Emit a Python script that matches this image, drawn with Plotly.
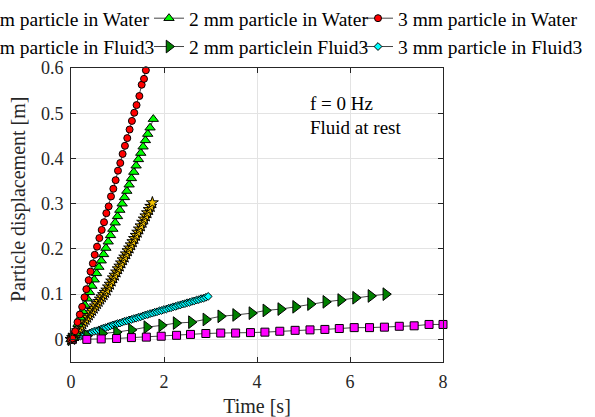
import plotly.graph_objects as go

# ---------------- data ----------------
t_1mm_water = [0.000, 0.035, 0.070, 0.105, 0.140, 0.175, 0.210, 0.245, 0.280, 0.315,
               0.350, 0.385, 0.420, 0.455, 0.490, 0.525, 0.560, 0.595, 0.630, 0.665,
               0.700, 0.735, 0.770, 0.805, 0.840, 0.875, 0.910, 0.945, 0.980, 1.015,
               1.050, 1.085, 1.120, 1.155, 1.190, 1.225, 1.260, 1.295, 1.330, 1.365,
               1.400, 1.435, 1.470, 1.505, 1.540, 1.575, 1.610, 1.645, 1.680, 1.715, 1.750]
d_1mm_water = [0.000, 0.004, 0.009, 0.014, 0.019, 0.024, 0.029, 0.034, 0.039, 0.044,
               0.049, 0.054, 0.059, 0.064, 0.069, 0.074, 0.079, 0.084, 0.089, 0.094,
               0.099, 0.104, 0.109, 0.116, 0.122, 0.129, 0.136, 0.142, 0.149, 0.156,
               0.162, 0.169, 0.176, 0.182, 0.189, 0.196, 0.202, 0.209, 0.216, 0.223,
               0.230, 0.237, 0.244, 0.251, 0.259, 0.266, 0.273, 0.280, 0.287, 0.294, 0.302]

t_2mm_water = [0.00, 0.05, 0.10, 0.15, 0.20, 0.25, 0.30, 0.35, 0.40, 0.45, 0.50, 0.55,
               0.60, 0.65, 0.70, 0.75, 0.80, 0.85, 0.90, 0.95, 1.00, 1.05, 1.10, 1.15,
               1.20, 1.25, 1.30, 1.35, 1.40, 1.45, 1.50, 1.55, 1.60, 1.65, 1.70, 1.77]
d_2mm_water = [0.000, 0.004, 0.014, 0.034, 0.048, 0.062, 0.076, 0.090, 0.104, 0.118, 0.132, 0.146,
               0.160, 0.174, 0.188, 0.202, 0.216, 0.230, 0.244, 0.258, 0.272, 0.286, 0.300, 0.314,
               0.328, 0.342, 0.356, 0.370, 0.384, 0.398, 0.412, 0.426, 0.440, 0.454, 0.468, 0.487]

t_3mm_water = [0.00, 0.03, 0.09, 0.14, 0.19, 0.24, 0.29, 0.33, 0.38, 0.42, 0.47, 0.51,
               0.56, 0.61, 0.66, 0.71, 0.76, 0.81, 0.86, 0.91, 0.96, 1.01, 1.06, 1.11,
               1.16, 1.21, 1.26, 1.31, 1.36, 1.41, 1.47, 1.52, 1.57, 1.61]
d_3mm_water = [0.000, 0.002, 0.018, 0.038, 0.055, 0.072, 0.093, 0.111, 0.131, 0.150, 0.168, 0.187,
               0.205, 0.224, 0.242, 0.259, 0.279, 0.294, 0.316, 0.333, 0.352, 0.373, 0.390, 0.410,
               0.428, 0.445, 0.464, 0.483, 0.501, 0.518, 0.538, 0.563, 0.576, 0.595]

t_1mm_fluid3 = [0.03, 0.34, 0.65, 0.98, 1.30, 1.62, 1.94, 2.27, 2.57, 2.90, 3.22, 3.54,
                3.86, 4.17, 4.49, 4.82, 5.14, 5.46, 5.77, 6.09, 6.42, 6.74, 7.06, 7.38, 7.70, 8.00]
d_1mm_fluid3 = [0.000, 0.000, 0.001, 0.002, 0.004, 0.005, 0.007, 0.009, 0.011, 0.013, 0.014, 0.014,
                0.015, 0.016, 0.018, 0.020, 0.021, 0.022, 0.024, 0.026, 0.026, 0.027, 0.029, 0.030, 0.033, 0.033]

t_2mm_fluid3 = [0.00, 0.34, 0.67, 0.98, 1.30, 1.63, 1.95, 2.26, 2.59, 2.90, 3.22,
                3.54, 3.89, 4.19, 4.51, 4.83, 5.15, 5.48, 5.80, 6.12, 6.45, 6.77]
d_2mm_fluid3 = [0.000, 0.008, 0.013, 0.016, 0.021, 0.027, 0.031, 0.036, 0.038, 0.044, 0.051,
                0.054, 0.058, 0.064, 0.067, 0.072, 0.078, 0.083, 0.087, 0.092, 0.096, 0.100]

t_3mm_fluid3 = [0.00, 0.05, 0.10, 0.15, 0.20, 0.25, 0.30, 0.35, 0.40, 0.45, 0.50, 0.55,
                0.60, 0.65, 0.70, 0.75, 0.80, 0.85, 0.90, 0.95, 1.00, 1.05, 1.10, 1.15,
                1.20, 1.25, 1.30, 1.35, 1.40, 1.45, 1.50, 1.55, 1.60, 1.65, 1.70, 1.75,
                1.80, 1.85, 1.90, 1.95, 2.00, 2.05, 2.10, 2.15, 2.20, 2.25, 2.30, 2.35,
                2.40, 2.45, 2.50, 2.55, 2.60, 2.65, 2.70, 2.75, 2.80, 2.85, 2.90, 2.95]
d_3mm_fluid3 = [0.000, 0.002, 0.004, 0.005, 0.007, 0.009, 0.011, 0.012, 0.014, 0.016, 0.018, 0.019,
                0.021, 0.023, 0.025, 0.026, 0.028, 0.030, 0.032, 0.033, 0.035, 0.036, 0.038, 0.040,
                0.041, 0.043, 0.044, 0.046, 0.047, 0.049, 0.050, 0.052, 0.054, 0.055, 0.057, 0.058,
                0.060, 0.061, 0.063, 0.064, 0.066, 0.067, 0.069, 0.070, 0.072, 0.073, 0.075, 0.076,
                0.078, 0.079, 0.081, 0.082, 0.084, 0.085, 0.087, 0.088, 0.090, 0.091, 0.093, 0.095]

x_ticks = [0, 2, 4, 6, 8]
y_ticks = [0, 0.1, 0.2, 0.3, 0.4, 0.5, 0.6]
y_tick_labels = ["0", "0.1", "0.2", "0.3", "0.4", "0.5", "0.6"]

# ---------------- figure ----------------
FONT = "Liberation Serif, Times New Roman, serif"
LINE = dict(color="#444444", width=1)
EDGE = dict(color="black", width=1)

series = [
    # name, t, d, symbol, fill, size, legend
    ("1 mm particle in Water", t_1mm_water, d_1mm_water, "star", "#f2c200", 9, "legend"),
    ("1 mm particle in Fluid3", t_1mm_fluid3, d_1mm_fluid3, "square", "#ff00ff", 8, "legend"),
    ("2 mm particle in Water", t_2mm_water, d_2mm_water, "triangle-up", "#00ff00", 9, "legend2"),
    ("2 mm particlein Fluid3", t_2mm_fluid3, d_2mm_fluid3, "triangle-right", "#008000", 11, "legend2"),
    ("3 mm particle in Water", t_3mm_water, d_3mm_water, "circle", "#ff0000", 7, "legend3"),
    ("3 mm particle in Fluid3", t_3mm_fluid3, d_3mm_fluid3, "diamond", "#00ffff", 6, "legend3"),
]

fig = go.Figure()
draw_order = [5, 3, 1, 0, 2, 4]
for i in draw_order:
    name, tt, dd, sym, fill, size, leg = series[i]
    fig.add_trace(go.Scatter(
        x=tt, y=dd, name=name, mode="lines+markers",
        line=LINE,
        marker=dict(symbol=sym, color=fill, size=size, line=EDGE),
        legend=leg, legendrank=i, cliponaxis=False,
    ))

L, R, T, B = 71, 443, 68, 362
W, H = 595, 417
pw = R - L
ph = B - T

leg_common = dict(
    orientation="v", yanchor="top", xanchor="left",
    bgcolor="rgba(0,0,0,0)", borderwidth=0,
    font=dict(family=FONT, size=19.5, color="black"),
    traceorder="normal", itemwidth=30,
)
leg_y = 1 + (T + 1) / ph
fig.update_layout(
    width=W, height=H,
    margin=dict(l=L, r=W - R, t=T, b=H - B, autoexpand=False),
    paper_bgcolor="white", plot_bgcolor="white",
    font=dict(family=FONT, color="black"),
    showlegend=True,
    legend=dict(x=(-70 - L) / pw, y=leg_y, **leg_common),
    legend2=dict(x=(149 - L) / pw, y=leg_y, **leg_common),
    legend3=dict(x=(358 - L) / pw, y=leg_y, **leg_common),
    xaxis=dict(
        range=[0, 8], tickvals=x_ticks, ticktext=[str(v) for v in x_ticks],
        showgrid=True, gridcolor="#e3e3e3", gridwidth=1, zeroline=False,
        showline=True, linecolor="#262626", linewidth=1, mirror="ticks",
        ticks="inside", ticklen=5, tickcolor="#262626", ticklabelstandoff=3,
        tickfont=dict(family=FONT, size=18, color="#262626"),
        title=dict(text="Time [s]", font=dict(family=FONT, size=20, color="#262626"), standoff=10),
    ),
    yaxis=dict(
        range=[-0.05, 0.6], tickvals=y_ticks, ticktext=y_tick_labels,
        showgrid=True, gridcolor="#e3e3e3", gridwidth=1, zeroline=False,
        showline=True, linecolor="#262626", linewidth=1, mirror="ticks",
        ticks="inside", ticklen=5, tickcolor="#262626", ticklabelstandoff=3,
        tickfont=dict(family=FONT, size=18, color="#262626"),
    ),
    annotations=[
        dict(text="Particle displacement [m]", textangle=-90, xref="paper", yref="paper",
             x=(18 - L) / pw, y=(B - 200) / ph, xanchor="center", yanchor="middle",
             showarrow=False, font=dict(family=FONT, size=20, color="#262626")),
        dict(text="f = 0 Hz", xref="x", yref="y", x=5.10, y=0.522, xanchor="left",
             yanchor="middle", showarrow=False, font=dict(family=FONT, size=19, color="black")),
        dict(text="Fluid at rest", xref="x", yref="y", x=5.10, y=0.469, xanchor="left",
             yanchor="middle", showarrow=False, font=dict(family=FONT, size=19, color="black")),
    ],
)

fig.write_html("out.html",
               config={"displayModeBar": False},
               post_script="document.body.style.margin='0';document.body.style.overflow='hidden';")
